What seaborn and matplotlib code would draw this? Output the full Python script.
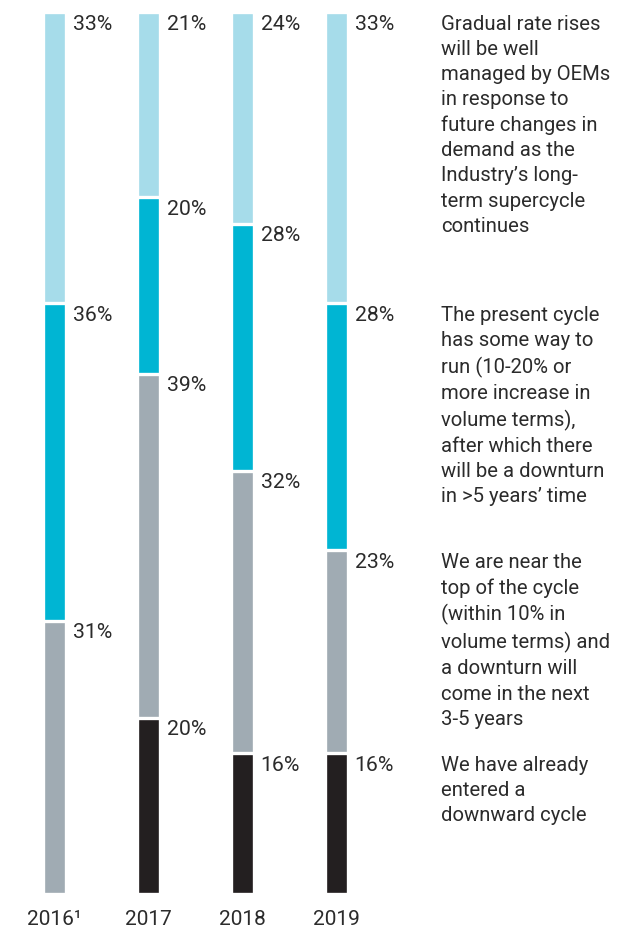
import pandas as pd
import seaborn as sns
import matplotlib.pyplot as plt

years = ["2016¹", "2017", "2018", "2019"]
# bottom to top: downward cycle, near top, way to run, gradual rises
downward = [None, 20, 16, 16]
near_top = [31, 39, 32, 23]
way_to_run = [36, 20, 28, 28]
gradual = [33, 21, 24, 33]

notes = [
    "Gradual rate rises\nwill be well\nmanaged by OEMs\nin response to\nfuture changes in\ndemand as the\nIndustry\u2019s long-\nterm supercycle\ncontinues",
    "The present cycle\nhas some way to\nrun (10-20% or\nmore increase in\nvolume terms),\nafter which there\nwill be a downturn\nin >5 years\u2019 time",
    "We are near the\ntop of the cycle\n(within 10% in\nvolume terms) and\na downturn will\ncome in the next\n3-5 years",
    "We have already\nentered a\ndownward cycle",
]

colors = ["#231f20", "#a0abb3", "#00b5d3", "#a6dcea"]
text_color = "#2b2b2b"

df = pd.DataFrame({"year": years, "downward": downward, "near_top": near_top,
                   "way_to_run": way_to_run, "gradual": gradual})
df = df.fillna(0)
layers = ["downward", "near_top", "way_to_run", "gradual"]
cum = df[layers].cumsum(axis=1)

sns.set_style("white")
plt.rcParams["font.family"] = ["Roboto", "DejaVu Sans"]

fig = plt.figure(figsize=(6.31, 9.28), dpi=100)
ax = fig.add_axes([7.5 / 631, 33 / 928, 376 / 631, 882 / 928])

bar_w = 0.255
# draw tallest cumulative first, smaller ones on top
for layer, color in zip(reversed(layers), reversed(colors)):
    d = pd.DataFrame({"year": years, "top": cum[layer]})
    d = d[df[layer] > 0]
    sns.barplot(data=d, x="year", y="top", order=years, color=color,
                width=bar_w, edgecolor="white", linewidth=2.4, saturation=1,
                errorbar=None, ax=ax)

# percentage labels at the top of each segment
for i in range(len(years)):
    for layer in layers:
        v = df[layer][i]
        if v > 0:
            ax.text(i + bar_w / 2 + 0.065, cum[layer][i] - 0.2, f"{int(v)}%",
                    ha="left", va="top", fontsize=15.3, color=text_color)

# notes aligned with 2019 segments
for layer, note in zip(reversed(layers), notes):
    ax.text(4.11, cum[layer][3] - 0.2, note, ha="left", va="top",
            fontsize=14.6, color=text_color, linespacing=1.41, clip_on=False)

ax.set_xlim(-0.5, 3.5)
ax.set_ylim(0, 100)
ax.set_xlabel("")
ax.set_ylabel("")
ax.set_yticks([])
ax.tick_params(axis="x", length=0, pad=11, labelsize=15, labelcolor=text_color)
sns.despine(ax=ax, left=True, bottom=True)

fig.savefig("out.png", dpi=100)
